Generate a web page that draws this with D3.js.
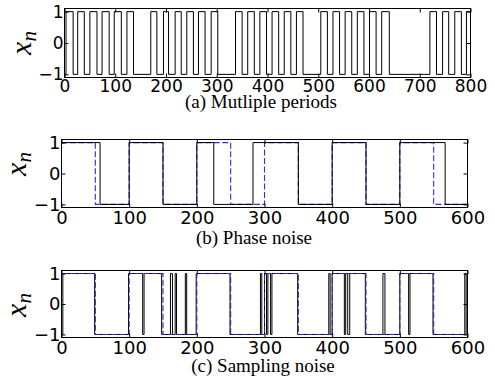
<!DOCTYPE html>
<html>
<head>
<meta charset="utf-8">
<script src="https://cdn.jsdelivr.net/npm/d3@7"></script>
<style>
  body { margin: 0; background: #fff; }
  .tick text { font-family: "DejaVu Sans", sans-serif; fill: #000; }
  .caption { font-family: "Liberation Serif", "Times New Roman", serif; font-size: 19px; }
  .ylab { font-family: "Liberation Serif", serif; font-style: italic; }
</style>
</head>
<body>
<div class="chart"></div>
<script>
// (a) step edges, level alternates starting from aStart
var aStart = -1;
var aEdges = [3, 17, 26, 39, 50, 64, 74, 88, 98, 112, 123, 136,
  170, 182, 195, 205, 218, 230, 241, 254, 264, 277, 289, 302,
  337, 350, 361, 374, 385, 398, 409, 422, 433, 446, 457, 470,
  505, 518, 529, 542, 553, 566, 577, 590, 601, 614, 625, 640,
  720, 733, 745, 757, 769, 782, 792];

// (b) phase noise: black measured signal, blue reference
var bStart = 1;
var bEdges = [57, 100, 150, 200, 225, 283, 350, 400, 450, 500, 567];

// reference square wave, period 100 (used in b and c)
var refStart = 1;
var refEdges = [50, 100, 150, 200, 250, 300, 350, 400, 450, 500, 550];

// (c) sampling noise
var cStart = -1;
var cEdges = [2, 49, 99, 120, 122, 148, 161, 164, 168, 170, 183, 185, 199,
  249, 294, 296, 300, 303, 305, 309, 311, 349, 395, 397, 400, 418, 420,
  423, 426, 449, 475, 478, 500, 513, 515, 549, 596, 598];

var yTicks = [-1, 0, 1];
var xTicksA = [0, 100, 200, 300, 400, 500, 600, 700, 800];
var xTicksBC = [0, 100, 200, 300, 400, 500, 600];

var svgWidth = 495;
var svgHeight = 381;

var svg = d3.select(".chart")
  .append("svg")
  .attr("width", svgWidth)
  .attr("height", svgHeight);

// turn start level + edges into step points
function stepPoints(start, edges, xmax) {
  var pts = [[0, start]];
  var lvl = start;
  edges.forEach(function(e) {
    pts.push([e, lvl]);
    lvl = -lvl;
    pts.push([e, lvl]);
  });
  pts.push([xmax, lvl]);
  return pts;
}

function drawPanel(cfg) {
  var x = d3.scaleLinear().domain([0, cfg.xmax]).range([cfg.left, cfg.right]);
  var y = d3.scaleLinear().domain([-1.1, 1.1]).range([cfg.bottom, cfg.top]);
  var g = svg.append("g");

  var line = d3.line()
    .x(function(d) { return x(d[0]); })
    .y(function(d) { return y(d[1]); });

  g.append("defs").append("clipPath").attr("id", "clip" + cfg.id)
    .append("rect")
    .attr("x", cfg.left).attr("y", cfg.top)
    .attr("width", cfg.right - cfg.left).attr("height", cfg.bottom - cfg.top);

  var plot = g.append("g").attr("clip-path", "url(#clip" + cfg.id + ")");

  cfg.series.forEach(function(s) {
    plot.append("path")
      .datum(stepPoints(s.start, s.edges, cfg.xmax))
      .attr("fill", "none")
      .attr("stroke", s.color)
      .attr("stroke-width", s.width)
      .attr("stroke-dasharray", s.dash || null)
      .attr("d", line);
  });

  // inward ticks on all four sides
  g.append("g")
    .attr("transform", "translate(0," + cfg.bottom + ")")
    .call(d3.axisBottom(x).tickValues(cfg.xticks).tickSize(-4).tickFormat(""))
    .call(function(a) { a.select(".domain").remove(); });
  g.append("g")
    .attr("transform", "translate(0," + cfg.top + ")")
    .call(d3.axisTop(x).tickValues(cfg.xticks).tickSize(-4).tickFormat(""))
    .call(function(a) { a.select(".domain").remove(); });
  g.append("g")
    .attr("transform", "translate(" + cfg.left + ",0)")
    .call(d3.axisLeft(y).tickValues(yTicks).tickSize(-4).tickFormat(""))
    .call(function(a) { a.select(".domain").remove(); });
  g.append("g")
    .attr("transform", "translate(" + cfg.right + ",0)")
    .call(d3.axisRight(y).tickValues(yTicks).tickSize(-4).tickFormat(""))
    .call(function(a) { a.select(".domain").remove(); });

  // tick labels
  var xl = g.append("g")
    .attr("transform", "translate(0," + cfg.bottom + ")")
    .call(d3.axisBottom(x).tickValues(cfg.xticks).tickSize(0).tickPadding(cfg.xpad).tickFormat(d3.format("d")));
  xl.select(".domain").remove();
  xl.selectAll("text").style("font-size", cfg.fs + "px");

  var yl = g.append("g")
    .attr("transform", "translate(" + cfg.left + ",0)")
    .call(d3.axisLeft(y).tickValues(yTicks).tickSize(0).tickPadding(1).tickFormat(d3.format("d")));
  yl.select(".domain").remove();
  yl.selectAll("text").style("font-size", cfg.fs + "px");

  g.selectAll(".tick line").attr("stroke", "#000");

  // frame
  g.append("rect")
    .attr("x", cfg.left).attr("y", cfg.top)
    .attr("width", cfg.right - cfg.left).attr("height", cfg.bottom - cfg.top)
    .attr("fill", "none")
    .attr("stroke", "#000")
    .attr("stroke-width", 1);

  // y label x_n
  var lab = g.append("text")
    .attr("class", "ylab")
    .attr("transform", "translate(" + cfg.labX + "," + cfg.labY + ") rotate(-90)")
    .attr("text-anchor", "middle");
  lab.append("tspan").style("font-size", "30px").text("x");
  lab.append("tspan").style("font-size", "21px").attr("dy", 5).text("n");

  // caption
  g.append("text")
    .attr("class", "caption")
    .attr("x", cfg.capX)
    .attr("y", cfg.capY)
    .attr("text-anchor", "middle")
    .text(cfg.caption);
}

drawPanel({
  id: "a", left: 64.5, right: 470.5, top: 8.5, bottom: 77.5, xmax: 800,
  xticks: xTicksA, fs: 17, xpad: 2, labX: 31, labY: 43,
  caption: "(a) Mutliple periods", capX: 261, capY: 108,
  series: [{ start: aStart, edges: aEdges, color: "#000", width: 1 }]
});

drawPanel({
  id: "b", left: 61.5, right: 467.5, top: 139.5, bottom: 207.5, xmax: 600,
  xticks: xTicksBC, fs: 18, xpad: 4, labX: 26, labY: 164,
  caption: "(b) Phase noise", capX: 254, capY: 244,
  series: [
    { start: refStart, edges: refEdges, color: "#2a2aff", width: 1.1, dash: "6,2.5" },
    { start: bStart, edges: bEdges, color: "#000", width: 1 }
  ]
});

drawPanel({
  id: "c", left: 61.5, right: 467.5, top: 270.5, bottom: 337.5, xmax: 600,
  xticks: xTicksBC, fs: 18, xpad: 4, labX: 26, labY: 305,
  caption: "(c) Sampling noise", capX: 263, capY: 372,
  series: [
    { start: cStart, edges: cEdges, color: "#000", width: 1 },
    { start: refStart, edges: refEdges, color: "#2a2aaa", width: 1.1, dash: "6,2.5" }
  ]
});
</script>
</body>
</html>
